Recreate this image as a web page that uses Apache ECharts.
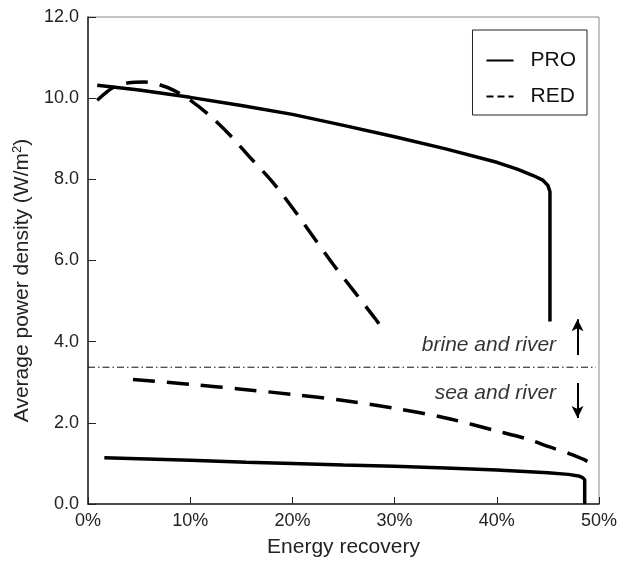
<!DOCTYPE html>
<html><head><meta charset="utf-8">
<script src="https://cdn.jsdelivr.net/npm/echarts@6/dist/echarts.min.js"></script>
<style>html,body{margin:0;padding:0;background:#fff}#c{width:621px;height:565px}</style>
</head><body><div id="c"></div>
<script>
// Energy recovery (%) , average power density (W/m2)
const proBrine = [[0.9,10.32],[5,10.2],[10,10.02],[15,9.82],[20,9.6],[25,9.33],[30,9.05],[35,8.75],[40,8.42],[42,8.25],[43.5,8.1],[44.5,7.98],[45.0,7.85],[45.2,7.7],[45.2,4.5]];
const redBrine = [[0.9,9.95],[2.5,10.27],[4,10.38],[5.5,10.4],[7,10.33],[8.5,10.18],[10,9.95],[12,9.55],[14,9.06],[16,8.5],[18,7.95],[20,7.3],[22,6.6],[24,5.9],[26,5.25],[28,4.6],[29.1,4.22]];
const proSea = [[1.6,1.14],[10,1.08],[15.5,1.03],[20,1.0],[25,0.96],[30,0.93],[35,0.89],[40,0.84],[45,0.77],[47,0.73],[48,0.69],[48.4,0.65],[48.6,0.6],[48.6,0]];
const redSea = [[4.4,3.07],[10,2.95],[15,2.83],[20,2.7],[25,2.55],[30,2.36],[35,2.12],[40,1.8],[43,1.6],[45,1.42],[47,1.25],[48.5,1.1],[49.5,0.95]];
const divider = [[0,3.37],[49.7,3.37]];
const annotations = [
  {text:'brine and river', x:45.8, y:3.92},
  {text:'sea and river', x:45.8, y:2.73}
];
const arrowUp = [[47.9,3.67],[47.9,4.55]];
const arrowDown = [[47.9,2.98],[47.9,2.12]];
const legendNames = ['PRO','RED'];

const chart = echarts.init(document.getElementById('c'));
const FONT = 'Liberation Sans';
const solid = {color:'#000', width:3.5, type:'solid'};
const dashed = {color:'#000', width:3.5, type:[22,12]};
chart.setOption({
  animation:false,
  textStyle:{fontFamily:FONT},
  grid:{left:88, right:22, top:17, bottom:61, show:true, borderColor:'#888', borderWidth:1},
  legend:{
    data:[
      {name:legendNames[0], itemStyle:{opacity:0}, lineStyle:{width:2, type:'solid'}},
      {name:legendNames[1], itemStyle:{opacity:0}, lineStyle:{width:2, type:[7,4]}}
    ],
    orient:'vertical', top:30, right:34,
    borderColor:'#222', borderWidth:1, padding:[20,11,8,13], itemGap:15,
    itemWidth:27, itemHeight:14,
    textStyle:{fontFamily:FONT, fontSize:21, lineHeight:21, color:'#111', padding:[0,0,0,12]}
  },
  xAxis:{
    type:'value', min:0, max:50, interval:10,
    name:'Energy recovery', nameLocation:'middle', nameGap:33,
    nameTextStyle:{fontSize:21, color:'#222'},
    axisLine:{lineStyle:{color:'#222', width:1.5}},
    axisTick:{inside:true, length:7, lineStyle:{color:'#222'}},
    axisLabel:{fontSize:18, color:'#222', margin:8, formatter:v=>v+'%'},
    splitLine:{show:false}
  },
  yAxis:{
    type:'value', min:0, max:12, interval:2,
    name:'Average power density (W/m{sup|2})', nameLocation:'middle', nameGap:51,
    nameTextStyle:{fontSize:21, color:'#222', padding:[0,40,0,0],
      rich:{sup:{fontSize:13, verticalAlign:'top', padding:[0,0,10,0], color:'#222'}}},
    axisLine:{show:true, lineStyle:{color:'#222', width:1.5}},
    axisTick:{show:true, inside:true, length:8, lineStyle:{color:'#222'}},
    axisLabel:{fontSize:18, color:'#222', margin:9, formatter:v=>v.toFixed(1)},
    splitLine:{show:false}
  },
  series:[
    {name:'PRO', type:'line', data:proBrine, showSymbol:false, symbol:'none', lineStyle:solid, itemStyle:{color:'#000'}},
    {name:'RED', type:'line', data:redBrine, showSymbol:false, symbol:'none', smooth:0.3, lineStyle:dashed, itemStyle:{color:'#000'}},
    {name:'PRO', type:'line', data:proSea, showSymbol:false, symbol:'none', lineStyle:solid, itemStyle:{color:'#000'}},
    {name:'RED', type:'line', data:redSea, showSymbol:false, symbol:'none', smooth:0.3, lineStyle:dashed, itemStyle:{color:'#000'}},
    {name:'divider', type:'line', data:divider, showSymbol:false, symbol:'none', lineStyle:{color:'#111', width:1, type:[7,3,1.5,3]}, z:1,
      markLine:{silent:true, symbol:['none','arrow'], symbolSize:[9,12], label:{show:false},
        lineStyle:{color:'#000', width:2, type:'solid'},
        data:[
          [{coord:arrowUp[0]},{coord:arrowUp[1]}],
          [{coord:arrowDown[0]},{coord:arrowDown[1]}]
        ]}
    },
    {name:'notes', type:'scatter', symbolSize:0,
      data:annotations.map(a=>({value:[a.x,a.y], name:a.text})),
      label:{show:true, position:'left', distance:0, formatter:p=>p.name,
        fontFamily:FONT, fontStyle:'italic', fontSize:21, color:'#000'}
    }
  ]
});
</script></body></html>
